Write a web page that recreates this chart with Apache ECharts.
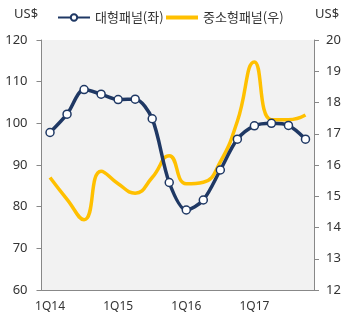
<!DOCTYPE html>
<html><head><meta charset="utf-8">
<script src="https://cdn.jsdelivr.net/npm/echarts@6/dist/echarts.min.js"></script>
<style>html,body{margin:0;padding:0;background:#fff}#c{width:351px;height:322px}</style>
</head><body><div id="c"></div>
<script>
var categories = ['1Q14','2Q14','3Q14','4Q14','1Q15','2Q15','3Q15','4Q15','1Q16','2Q16','3Q16','4Q16','1Q17','2Q17','3Q17','4Q17'];
var largePanel = [97.8,102.2,108.1,107.0,105.7,105.8,101.1,85.8,79.2,81.6,88.8,96.2,99.4,100.0,99.5,96.2];
var smallPanel = [15.6,14.9,14.25,15.8,15.4,15.1,15.6,16.3,15.4,15.45,16.1,17.4,19.3,17.45,17.45,17.6];
var leftTicks = {min:60,max:120,interval:10};
var rightTicks = {min:12,max:20,interval:1};
var nameLarge = '대형패널(좌)', nameSmall = '중소형패널(우)';

var font = '"Noto Sans","Noto Sans CJK KR",sans-serif';
var legendText = {fontSize:13,color:'#333',fontFamily:'"Noto Sans CJK KR",sans-serif'};
var chart = echarts.init(document.getElementById('c'));
chart.setOption({
  animation:false,
  textStyle:{fontFamily:font},
  graphic:[
    {type:'text',left:14,top:8,style:{text:'US$',font:'13px '+font,fill:'#333'}},
    {type:'text',left:315,top:8,style:{text:'US$',font:'13px '+font,fill:'#333'}}
  ],
  legend:[
    {top:11,left:57,itemWidth:32,itemHeight:8,padding:0,textStyle:legendText,data:[nameLarge]},
    {top:11,left:166,itemWidth:32,itemHeight:4,padding:0,textStyle:legendText,
     data:[{name:nameSmall,icon:'rect'}]}
  ],
  grid:{left:41.5,right:37,top:40,bottom:32,show:true,backgroundColor:'#f2f2f2',borderWidth:0},
  xAxis:{
    type:'category',data:categories,boundaryGap:true,
    axisLine:{lineStyle:{color:'#888',width:1}},
    axisTick:{interval:0,length:5,lineStyle:{color:'#888'}},
    axisLabel:{interval:3,color:'#333',fontSize:12,margin:11}
  },
  yAxis:[
    {type:'value',position:'left',min:leftTicks.min,max:leftTicks.max,interval:leftTicks.interval,
     axisLine:{show:true,lineStyle:{color:'#888'}},axisTick:{show:true,length:5,lineStyle:{color:'#888'}},
     splitLine:{show:false},axisLabel:{color:'#333',fontSize:13,margin:14}},
    {type:'value',position:'right',min:rightTicks.min,max:rightTicks.max,interval:rightTicks.interval,
     axisLine:{show:true,lineStyle:{color:'#888'}},axisTick:{show:true,length:5,lineStyle:{color:'#888'}},
     splitLine:{show:false},axisLabel:{color:'#333',fontSize:13,margin:12}}
  ],
  series:[
    {name:nameLarge,type:'line',yAxisIndex:0,data:largePanel,smooth:0.3,
     symbol:'circle',symbolSize:8,showSymbol:true,
     lineStyle:{color:'#1f3864',width:3.5},
     itemStyle:{color:'#fff',borderColor:'#1f3864',borderWidth:1.5},z:3},
    {name:nameSmall,type:'line',yAxisIndex:1,data:smallPanel,smooth:0.5,
     symbol:'none',showSymbol:false,
     lineStyle:{color:'#ffc000',width:3.5},itemStyle:{color:'#ffc000'},z:2}
  ]
});
</script></body></html>
